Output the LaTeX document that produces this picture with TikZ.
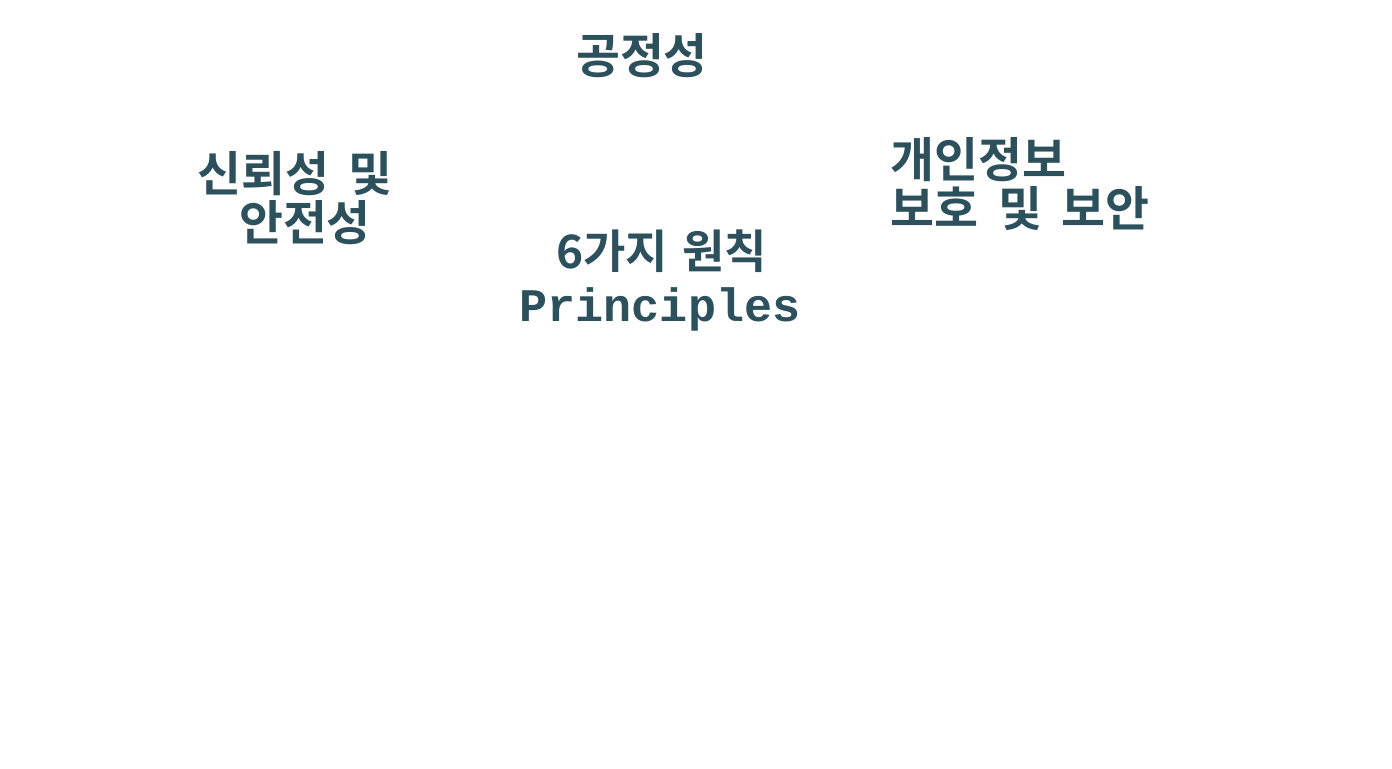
\documentclass[tikz,border=0pt]{standalone}
\usepackage{fontspec}
\newfontfamily\cjk{Noto Sans CJK KR}[BoldFont={* Bold}, WordSpace=1.8]
\newfontfamily\mono{Liberation Mono}
\definecolor{tealdark}{RGB}{44,80,92}
\begin{document}
\begin{tikzpicture}[
    label/.style={text=tealdark, inner sep=0pt, font=\cjk\bfseries\fontsize{13.6}{13.7}\selectfont},
    mono/.style={text=tealdark, inner sep=0pt, font=\mono\bfseries\fontsize{13.3}{14}\selectfont}
]
    \useasboundingbox (0,0) rectangle (13.92,-7.68);

    \node[label] (fair) at (6.42, -0.56) {공정성};
    \node[label, align=center] (safe) at (2.95, -1.98) {신뢰성 및\\\hspace*{0.2cm}안전성};
    \node[label, align=left, anchor=west] (priv) at (8.90, -1.84) {개인정보\\보호 및 보안};

    % 가운데
    \node[label, font=\cjk\bfseries\fontsize{13.1}{13.7}\selectfont] (six) at (6.615, -2.51) {6가지\hspace{0.14cm}원칙};
    \node[mono] (prin) at (6.60, -3.09) {Principles};
\end{tikzpicture}
\end{document}
